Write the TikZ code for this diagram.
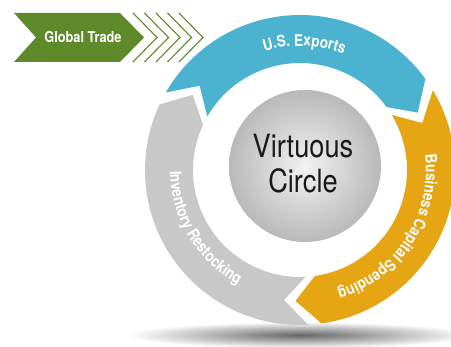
\documentclass[tikz,border=0pt]{standalone}
\usepackage{fontspec}
\newfontfamily\condfont[FakeStretch=0.85]{TeX Gyre Heros}
\usetikzlibrary{decorations.text}
\definecolor{ring_blue}{RGB}{75,179,208}
\definecolor{ring_orange}{RGB}{230,166,20}
\definecolor{ring_gray}{RGB}{200,200,200}
\definecolor{trade_green}{RGB}{94,138,42}
\newcommand\arcfont{\condfont\bfseries\fontsize{16}{16}\selectfont}

\begin{document}
\begin{tikzpicture}[x=1pt,y=1pt]
    \tikzstyle{tradetext}=[text=white, font=\condfont\bfseries\fontsize{15}{15}\selectfont]
    \tikzstyle{centertext}=[text=black!90, align=center, font=\condfont\fontsize{32}{35}\selectfont]
    \tikzstyle{chevron}=[draw=trade_green, line width=1.1pt, fill=none]
    \tikzstyle{arclabel}=[decorate, decoration={text along path, text align=center, text color=white, text={|\arcfont|#1}}]

    \useasboundingbox (0,0) rectangle (451,347);

    % shadow under the ring
    \shade[inner color=black!60, outer color=white] (300,12) ellipse (172 and 13);

    % global trade arrow
    \fill[trade_green] (14,334) -- (120,334) -- (144,309.5) -- (120,285) -- (14,285) -- (36,309.5) -- cycle;
    \node[tradetext] (trade) at (83,309.5) {Global Trade};
    \foreach \x in {133,144.5,156,167.5,179}
      \draw[chevron] (\x,334) -- (\x+24,309.5) -- (\x,285);

    % the three ring segments
    \begin{scope}[shift={(300,177)}]
      \foreach \tail/\head/\col in {150/36/ring_blue, 31/-82/ring_orange, -87/-205/ring_gray}
        \fill[\col] (\tail:155) arc[start angle=\tail, end angle=\head, radius=155]
          -- (\head-10:131) -- (\head:107) arc[start angle=\head, end angle=\tail, radius=107]
          -- (\tail-10:131) -- cycle;

      \path[arclabel={U.S. Exports}] (128:124) arc[start angle=128, end angle=48, radius=124];
      \path[arclabel={Business Capital Spending}] (17:126) arc[start angle=17, end angle=-83, radius=126];
      \path[arclabel={Inventory Restocking}] (161:130) arc[start angle=161, end angle=261, radius=130];
    \end{scope}

    % centre ball
    \shade[inner color=gray!10, outer color=gray!55] (305,181) circle (76);
    \node[centertext] (virtuous) at (303,183) {Virtuous\\Circle};
\end{tikzpicture}
\end{document}
